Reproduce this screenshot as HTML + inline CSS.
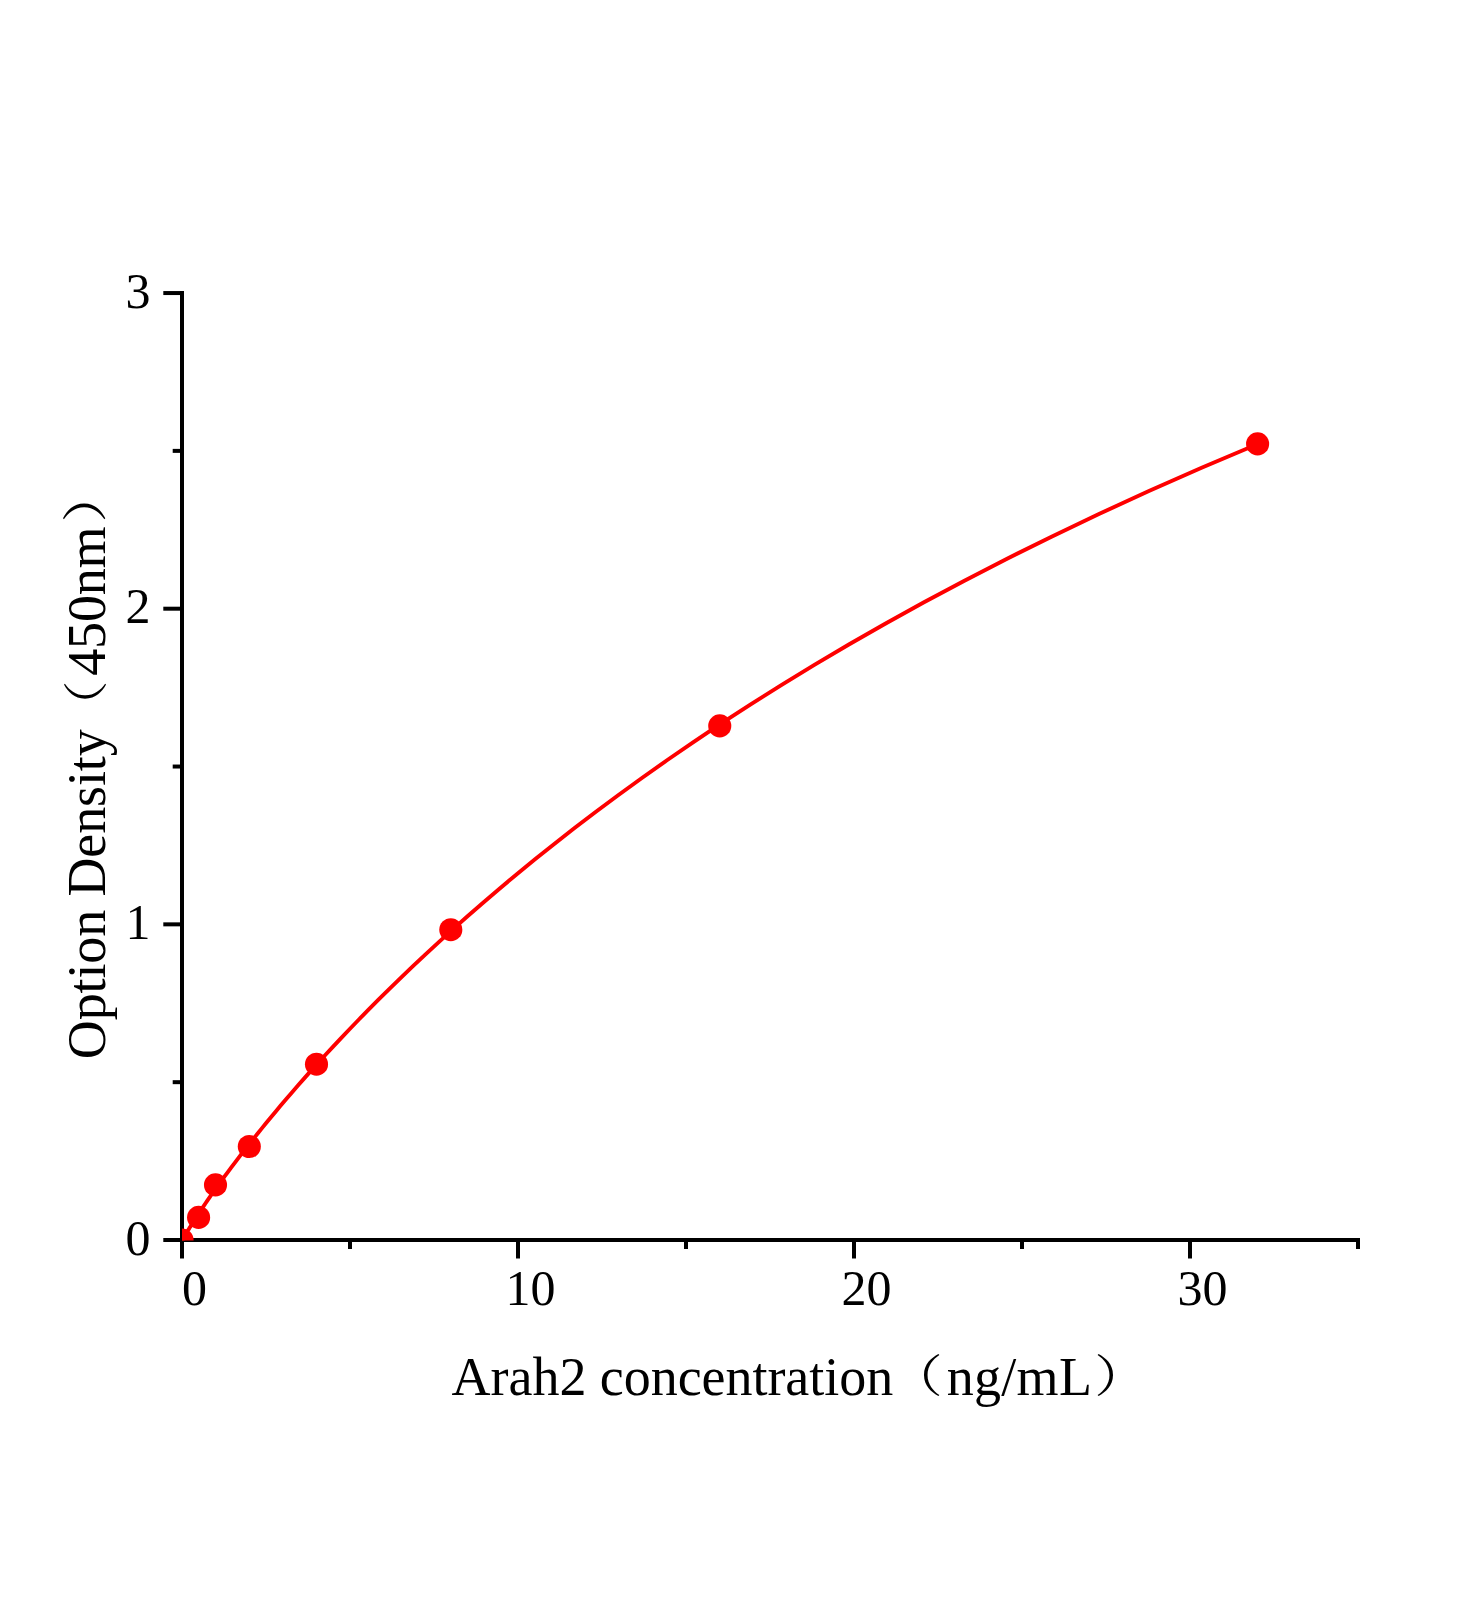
<!DOCTYPE html>
<html lang="en"><head><meta charset="utf-8"><title>Arah2 standard curve</title>
<style>
html,body{margin:0;padding:0;background:#fff;}
body{width:1472px;height:1600px;overflow:hidden;}
svg{display:block;}
text{font-family:"Liberation Serif","Noto Serif CJK SC",serif;fill:#000;}
.tk{font-size:50px;}
.tt{font-size:54px;}
.pp{font-family:"Noto Serif CJK SC","Liberation Serif",serif;}
</style></head><body>
<svg width="1472" height="1600" viewBox="0 0 1472 1600">
<rect width="1472" height="1600" fill="#fff"/>
<defs><clipPath id="plot"><rect x="182" y="200" width="1250" height="1040.6"/></clipPath></defs>

<g stroke="#000" stroke-width="4.0" fill="none" stroke-linecap="butt">
<line x1="182.0" y1="291.05" x2="182.0" y2="1258.5"/>
<line x1="163.3" y1="1240.0" x2="1360.00" y2="1240.0"/>
<line x1="163.3" y1="924.35" x2="182.0" y2="924.35"/>
<line x1="163.3" y1="608.70" x2="182.0" y2="608.70"/>
<line x1="163.3" y1="293.05" x2="182.0" y2="293.05"/>
<line x1="172.7" y1="1082.17" x2="182.0" y2="1082.17"/>
<line x1="172.7" y1="766.53" x2="182.0" y2="766.53"/>
<line x1="172.7" y1="450.88" x2="182.0" y2="450.88"/>
<line x1="518.00" y1="1240.0" x2="518.00" y2="1258.5"/>
<line x1="854.00" y1="1240.0" x2="854.00" y2="1258.5"/>
<line x1="1190.00" y1="1240.0" x2="1190.00" y2="1258.5"/>
<line x1="350.00" y1="1240.0" x2="350.00" y2="1249"/>
<line x1="686.00" y1="1240.0" x2="686.00" y2="1249"/>
<line x1="1022.00" y1="1240.0" x2="1022.00" y2="1249"/>
<line x1="1358.00" y1="1240.0" x2="1358.00" y2="1249"/>
</g>
<g clip-path="url(#plot)">
<path d="M182.00,1240.00 L182.67,1239.97 L182.71,1239.90 L182.75,1239.82 L182.79,1239.74 L182.83,1239.66 L182.88,1239.57 L182.92,1239.47 L182.97,1239.37 L183.03,1239.27 L183.08,1239.16 L183.14,1239.05 L183.20,1238.93 L183.27,1238.80 L183.34,1238.67 L183.41,1238.53 L183.49,1238.39 L183.57,1238.23 L183.66,1238.07 L183.75,1237.90 L183.84,1237.73 L183.94,1237.54 L184.05,1237.34 L184.16,1237.14 L184.28,1236.92 L184.40,1236.70 L184.53,1236.46 L184.67,1236.21 L184.82,1235.95 L184.97,1235.68 L185.13,1235.39 L185.30,1235.09 L185.48,1234.77 L185.67,1234.43 L185.87,1234.08 L186.08,1233.72 L186.31,1233.33 L186.54,1232.93 L186.79,1232.50 L187.05,1232.06 L187.33,1231.59 L187.62,1231.10 L187.92,1230.58 L188.24,1230.04 L188.59,1229.47 L188.94,1228.88 L189.32,1228.25 L189.72,1227.59 L190.14,1226.91 L190.59,1226.18 L191.05,1225.43 L191.55,1224.63 L192.07,1223.79 L192.62,1222.92 L193.20,1222.00 L193.81,1221.04 L194.45,1220.02 L195.13,1218.96 L195.84,1217.85 L196.60,1216.68 L197.40,1215.46 L198.23,1214.18 L199.12,1212.83 L200.05,1211.42 L201.04,1209.94 L202.07,1208.38 L203.17,1206.76 L204.32,1205.05 L205.54,1203.26 L206.82,1201.39 L208.18,1199.42 L209.60,1197.37 L211.11,1195.21 L212.69,1192.95 L214.37,1190.58 L216.13,1188.10 L217.99,1185.50 L219.95,1182.78 L222.02,1179.93 L224.21,1176.95 L226.51,1173.83 L228.93,1170.56 L231.49,1167.14 L234.19,1163.56 L237.03,1159.82 L240.03,1155.90 L243.20,1151.81 L246.53,1147.53 L250.05,1143.05 L253.76,1138.37 L257.67,1133.49 L261.80,1128.38 L266.15,1123.05 L270.73,1117.48 L275.57,1111.67 L280.67,1105.61 L286.05,1099.28 L291.72,1092.68 L297.70,1085.81 L304.01,1078.64 L310.66,1071.17 L317.67,1063.39 L325.07,1055.29 L332.87,1046.86 L341.09,1038.09 L349.76,1028.97 L358.91,1019.50 L368.55,1009.65 L378.72,999.43 L389.44,988.81 L400.75,977.80 L412.68,966.39 L425.25,954.56 L438.51,942.31 L452.49,929.63 L467.24,916.51 L482.79,902.95 L499.18,888.95 L516.47,874.48 L534.71,859.56 L553.93,844.18 L574.21,828.33 L595.59,812.02 L618.13,795.24 L641.91,777.99 L666.98,760.28 L693.41,742.11 L721.29,723.48 L750.69,704.40 L781.69,684.87 L814.38,664.91 L848.85,644.53 L885.20,623.73 L923.53,602.52 L963.96,580.93 L1006.58,558.97 L1051.53,536.65 L1098.93,514.00 L1148.91,491.03 L1201.62,467.76 L1257.20,444.22" fill="none" stroke="#fe0000" stroke-width="3.9" stroke-linejoin="round"/>
<circle cx="182" cy="1240" r="11.55" fill="#fe0000"/>
<circle cx="198.6" cy="1217.4" r="11.55" fill="#fe0000"/>
<circle cx="215.5" cy="1184.9" r="11.55" fill="#fe0000"/>
<circle cx="249.3" cy="1146.5" r="11.55" fill="#fe0000"/>
<circle cx="316.5" cy="1064.2" r="11.55" fill="#fe0000"/>
<circle cx="450.8" cy="929.7" r="11.55" fill="#fe0000"/>
<circle cx="719.75" cy="725.9" r="11.55" fill="#fe0000"/>
<circle cx="1257.6" cy="443.9" r="11.55" fill="#fe0000"/>
</g>
<text class="tk" x="150.5" y="1254.70" text-anchor="end">0</text>
<text class="tk" x="150.5" y="939.05" text-anchor="end">1</text>
<text class="tk" x="150.5" y="623.40" text-anchor="end">2</text>
<text class="tk" x="150.5" y="307.75" text-anchor="end">3</text>
<text class="tk" x="194.50" y="1304.8" text-anchor="middle">0</text>
<text class="tk" x="530.50" y="1304.8" text-anchor="middle">10</text>
<text class="tk" x="866.50" y="1304.8" text-anchor="middle">20</text>
<text class="tk" x="1202.50" y="1304.8" text-anchor="middle">30</text>
<text class="tt" x="451.6" y="1394.8" textLength="441.6" lengthAdjust="spacing">Arah2 concentration</text>
<text class="pp" font-size="44.8" transform="translate(888.95,1392.25) scale(1.2,1)">（</text>
<text class="tt" x="946.7" y="1394.8" textLength="145.2" lengthAdjust="spacing">ng/mL</text>
<text class="pp" font-size="44.8" transform="translate(1094.15,1392.25) scale(1.2,1)">）</text>
<text class="tt" transform="translate(104.8,1059.2) rotate(-90)" textLength="329.9" lengthAdjust="spacing">Option Density</text>
<text class="pp" font-size="44.9" transform="translate(102.97,733.1) rotate(-90) scale(1.172,1)">（</text>
<text class="tt" transform="translate(104.8,675.7) rotate(-90)" textLength="149.3" lengthAdjust="spacing">450nm</text>
<text class="pp" font-size="45.2" transform="translate(102.3,522.7) rotate(-90) scale(1.219,1)">）</text>
</svg></body></html>
